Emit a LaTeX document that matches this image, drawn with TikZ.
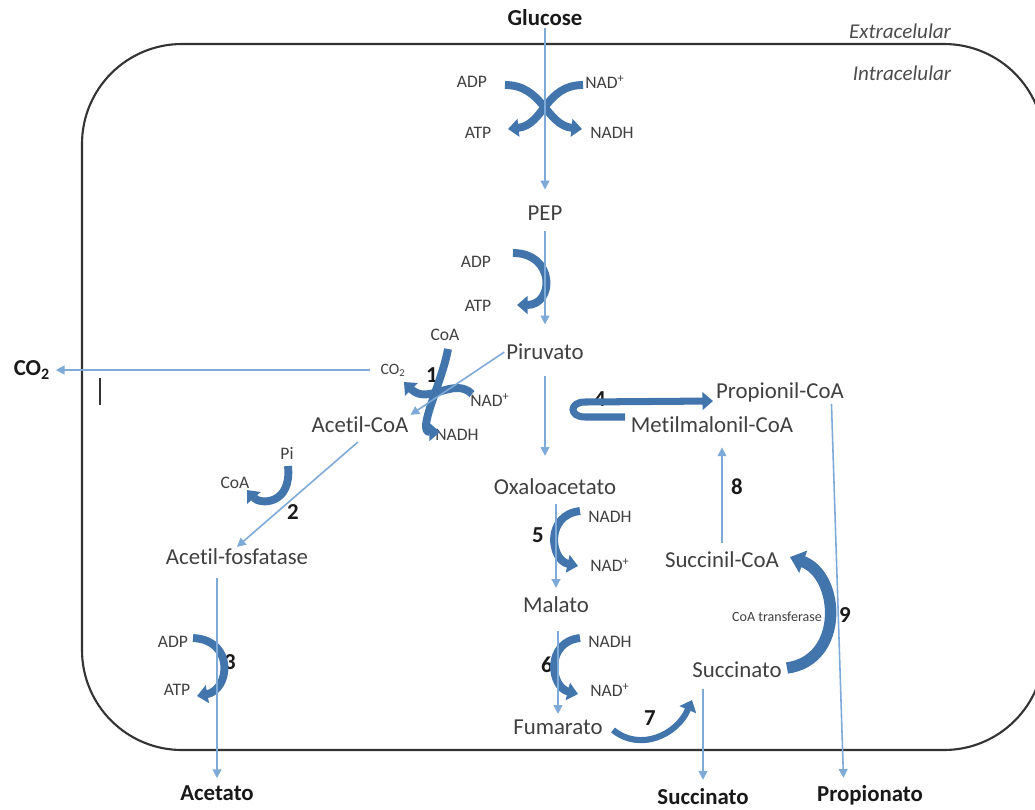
\documentclass[tikz,border=0pt]{standalone}
\usepackage{fontspec}
\setmainfont{Carlito}[Ligatures=CommonOff]
\usetikzlibrary{arrows.meta,calc}
\definecolor{flowblue}{RGB}{125,170,215}
\definecolor{fatblue}{RGB}{66,117,172}
\definecolor{txtgray}{RGB}{64,64,64}
\begin{document}
\begin{tikzpicture}[x=0.02cm,y=-0.02cm,
    met/.style={text=txtgray,font=\fontsize{13}{15}\selectfont,inner sep=1pt},
    prod/.style={text=black!90,font=\bfseries\fontsize{13}{15}\selectfont,inner sep=1pt},
    cof/.style={text=txtgray,font=\fontsize{10}{12}\selectfont,inner sep=1pt},
    num/.style={text=black!90,font=\bfseries\fontsize{13}{15}\selectfont,inner sep=1pt},
    side/.style={text=black!70,font=\itshape\fontsize{12}{14}\selectfont,inner sep=1pt},
    flux/.style={flowblue,line width=0.9pt,-{Triangle[width=5pt,length=5pt]}},
    fat/.style={fatblue,line width=4.5pt,-{Triangle[width=10pt,length=6pt]}}]
    \useasboundingbox (0,0) rectangle (1035,809);
    % cell
    \draw[black!80,line width=1.2pt,rounded corners=2cm] (82,44) rectangle (1044,750);
    \draw[black!80,line width=0.8pt] (100,378) to (100,405);
    \node[side] (ext) at (900,31) {Extracelular};
    \node[side] (intra) at (902,73) {Intracelular};
    % metabolites
    \node[prod] (glc) at (545,18) {Glucose};
    \node[met] (pep) at (545,213) {PEP};
    \node[met] (pyr) at (545,352) {Piruvato};
    \node[met] (accoa) at (360,425) {Acetil-CoA};
    \node[met] (acp) at (237,557) {Acetil-fosfatase};
    \node[met] (prcoa) at (780,392) {Propionil-CoA};
    \node[met] (mmcoa) at (712,425) {Metilmalonil-CoA};
    \node[met] (oaa) at (555,487) {Oxaloacetato};
    \node[met] (mal) at (556,605) {Malato};
    \node[met] (fum) at (558,727) {Fumarato};
    \node[met] (succoa) at (722,560) {Succinil-CoA};
    \node[met] (suc) at (737,670) {Succinato};
    \node[prod] (co2out) at (32,370) {CO\textsubscript{2}};
    \node[prod] (ace) at (217,793) {Acetato};
    \node[prod] (sucout) at (703,797) {Succinato};
    \node[prod] (propout) at (870,795) {Propionato};
    % cofactors
    \node[cof] (adpa) at (472,82) {ADP};
    \node[cof] (nadpa) at (605,82) {NAD\textsuperscript{+}};
    \node[cof] (atpa) at (478,133) {ATP};
    \node[cof] (nadha) at (612,133) {NADH};
    \node[cof] (adpb) at (476,262) {ADP};
    \node[cof] (atpb) at (478,306) {ATP};
    \node[cof] (coaa) at (445,335) {CoA};
    \node[cof,font=\fontsize{9}{11}\selectfont] (co2a) at (393,370) {CO\textsubscript{2}};
    \node[cof] (nadpc) at (490,400) {NAD\textsuperscript{+}};
    \node[cof] (nadhc) at (457,435) {NADH};
    \node[cof] (pia) at (287,453) {Pi};
    \node[cof] (coab) at (235,483) {CoA};
    \node[cof] (adpc) at (173,642) {ADP};
    \node[cof] (atpc) at (177,690) {ATP};
    \node[cof] (nadhd) at (610,517) {NADH};
    \node[cof] (nadpd) at (610,565) {NAD\textsuperscript{+}};
    \node[cof] (nadhe) at (610,642) {NADH};
    \node[cof] (nadpe) at (610,690) {NAD\textsuperscript{+}};
    \node[cof,font=\fontsize{8}{10}\selectfont] (coat) at (777,617) {CoA transferase};
    % steps
    \node[num] (n1) at (432,375) {1};
    \node[num] (n2) at (293,512) {2};
    \node[num] (n3) at (230,662) {3};
    \node[num] (n4) at (600,399) {4};
    \node[num] (n5) at (538,535) {5};
    \node[num] (n6) at (547,665) {6};
    \node[num] (n7) at (650,718) {7};
    \node[num] (n8) at (737,487) {8};
    \node[num] (n9) at (845,615) {9};
    % cofactor arrows
    \draw[fat] ($(adpa)+(33,3)$) .. controls +(38,0) and +(-36,-4) .. ($(nadha)+(-30,-4)$);
    \draw[fat] ($(nadpa)+(-22,3)$) .. controls +(-38,0) and +(36,-4) .. ($(atpa)+(30,-4)$);
    \draw[fat] ($(adpb)+(37,-9)$) .. controls +(42,0) and +(38,0) .. ($(atpb)+(39,-1)$);
    \draw[fat] ($(coaa)+(3,14)$) .. controls +(-6,34) and +(-24,0) .. ($(nadhc)+(-17,-3)$);
    \draw[fat] ($(nadpc)+(-18,-6)$) .. controls +(-18,-18) and +(24,24) .. ($(co2a)+(11,12)$);
    \draw[fat] ($(pia)+(1,13)$) .. controls +(4,39) and +(13,15) .. ($(coab)+(12,7)$);
    \draw[fat] ($(adpc)+(20,-4)$) .. controls +(42,2) and +(33,-6) .. ($(atpc)+(20,6)$);
    \draw[fat] ($(nadhd)+(-30,-6)$) .. controls +(-35,4) and +(-28,-6) .. ($(nadpd)+(-32,1)$);
    \draw[fat] ($(nadhe)+(-30,-4)$) .. controls +(-35,4) and +(-28,-7) .. ($(nadpe)+(-32,4)$);
    \draw[fat,line width=3.5pt] ($(fum)+(55,3)$) .. controls +(27,22) and +(-15,35) .. ($(suc)+(-45,30)$);
    \draw[fat,line width=6.5pt,-{Triangle[width=13pt,length=8pt]}] ($(suc)+(50,-2)$) .. controls +(58,-8) and +(50,18) .. ($(succoa)+(68,-3)$);
    \draw[fat,line width=4pt] ($(mmcoa)+(-87,-8)$) -- ++(-40,0) .. controls +(-16,0) and +(-16,0) .. ++(0,-15) -- ($(prcoa)+(-67,9)$);
    % pathway
    \draw[flux,shorten >=8pt] (glc) to (pep);
    \draw[flux,shorten <=5pt,shorten >=10pt] (pep) to (pyr);
    \draw[flux,shorten <=8pt,shorten >=12pt] (pyr.south) to (pyr.south |- oaa.north);
    \draw[flux] (pyr.west) to (accoa.north east);
    \draw[flux,shorten <=5pt,shorten >=2pt] (co2a) to (co2out);
    \draw[flux,shorten <=6pt] (accoa.-60) to (acp.north);
    \draw[flux,shorten <=6pt,shorten >=3pt] (ace.north |- acp.south) to (ace.north);
    \draw[flux,shorten <=4pt,shorten >=4pt] (mal.north |- oaa.south) to (mal.north);
    \draw[flux,shorten <=9pt,shorten >=2pt] (fum.north |- mal.south) to (fum.north);
    \draw[flux,shorten <=4pt,shorten >=7pt] (succoa.north) to (succoa.north |- mmcoa.south);
    \draw[flux,shorten <=5pt,shorten >=4pt] (sucout.north |- suc.south) to (sucout.north);
    \draw[flux,shorten >=3pt] (prcoa.-13) to ([xshift=-15pt]propout.north);
\end{tikzpicture}
\end{document}
